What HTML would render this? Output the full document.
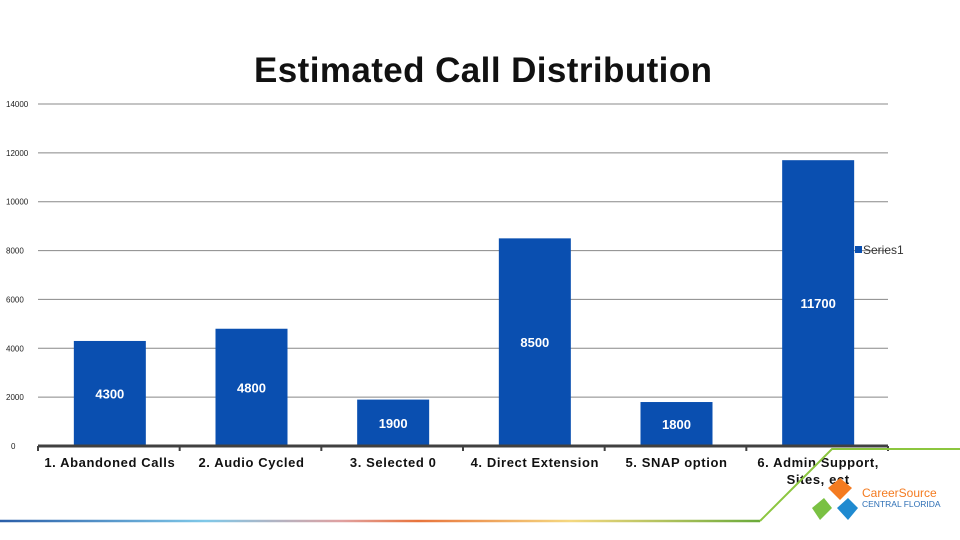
<!DOCTYPE html>
<html><head><meta charset="utf-8"><style>
body{margin:0;background:#fff;width:960px;height:540px;overflow:hidden;font-family:"Liberation Sans",Arial,sans-serif}
svg{display:block}
</style></head><body>
<svg id="chart" width="960" height="540">
<text x="483" y="82" text-anchor="middle" font-size="35" font-weight="bold" fill="#111" textLength="458">Estimated Call Distribution</text>
<g id="grid"></g><g id="bars"></g><g id="labels"></g>
<line x1="38" y1="446" x2="888" y2="446" stroke="#404040" stroke-width="3"/>
<g>
<rect x="855" y="246" width="7" height="7" fill="#0a4fb0"/>
<text x="863" y="254" font-size="12" fill="#333">Series1</text>
</g>
<defs><linearGradient id="bl" x1="0" x2="760" gradientUnits="userSpaceOnUse"><stop offset="0" stop-color="#2a5ea8"/><stop offset="0.27" stop-color="#7fc8e8"/><stop offset="0.45" stop-color="#e0a0a0"/><stop offset="0.55" stop-color="#e8743c"/><stop offset="0.75" stop-color="#f5d880"/><stop offset="1" stop-color="#6aaa3a"/></linearGradient></defs>
<line x1="0" y1="521" x2="760" y2="521" stroke="url(#bl)" stroke-width="2.5"/>
<polyline points="760,521 832,449 960,449" fill="none" stroke="#8cc63f" stroke-width="2"/>
<g>
<polygon points="840,478 852,488 840,500 828,488" fill="#f47b20"/>
<polygon points="812,508 824,498 832,508 820,520" fill="#7ac143"/>
<polygon points="837,508 848,498 858,508 848,520" fill="#1f8ad0"/>
<text x="862" y="497" font-size="12" fill="#f47b20">CareerSource</text>
<text x="862" y="507" font-size="8.5" fill="#2d6fb5">CENTRAL FLORIDA</text>
</g>
</svg>
<script>
const categories=["1. Abandoned Calls","2. Audio Cycled","3. Selected 0","4. Direct Extension","5. SNAP option","6. Admin Support, Sites, ect"];
const values=[4300,4800,1900,8500,1800,11700];
const ticks=[0,2000,4000,6000,8000,10000,12000,14000];
const NS="http://www.w3.org/2000/svg";
const x0=38,x1=888,y0=446,yTop=104,ymax=14000;
const band=(x1-x0)/categories.length;
function y(v){return y0-(v/ymax)*(y0-yTop);}
function xc(i){return x0+band*(i+0.5)+1;}
function mk(tag,attrs,parent,txt){const e=document.createElementNS(NS,tag);for(const k in attrs)e.setAttribute(k,attrs[k]);if(txt!==undefined)e.textContent=txt;document.getElementById(parent).appendChild(e);return e;}
ticks.forEach(t=>{
 if(t>0){const l=mk('line',{x1:x0,x2:x1,y1:y(t),y2:y(t),stroke:'#888','stroke-width':1},'grid');
 
 }
 const tx=mk('text',{x:t===0?11:6,y:y(t)+3,'font-size':8,fill:'#222'},'grid',String(t));
 
 
});
for(let i=0;i<=categories.length;i++){
 const tk=mk('line',{x1:x0+band*i,x2:x0+band*i,y1:446,y2:451,stroke:'#404040','stroke-width':2},'grid');
 
 
}
const bw=72;
categories.forEach((c,i)=>{
 const b=mk('rect',{x:xc(i)-bw/2,y:y(values[i]),width:bw,height:y0-y(values[i]),fill:'#0a4fb0'},'bars');
 
 
 const v=mk('text',{x:xc(i),y:(y(values[i])+y0)/2+5,'text-anchor':'middle','font-size':13,'font-weight':'bold',fill:'#fff'},'labels',String(values[i]));
 
 
 const parts=c.length>24?[c.slice(0,c.indexOf(',')+1),c.slice(c.indexOf(',')+2)]:[c];
 parts.forEach((p,j)=>{
  const t=mk('text',{x:xc(i),y:467+j*17,'text-anchor':'middle','font-size':13,'font-weight':'bold',fill:'#111','letter-spacing':'0.6'},'labels',p);
  
  
 });
});
</script>
</body></html>
